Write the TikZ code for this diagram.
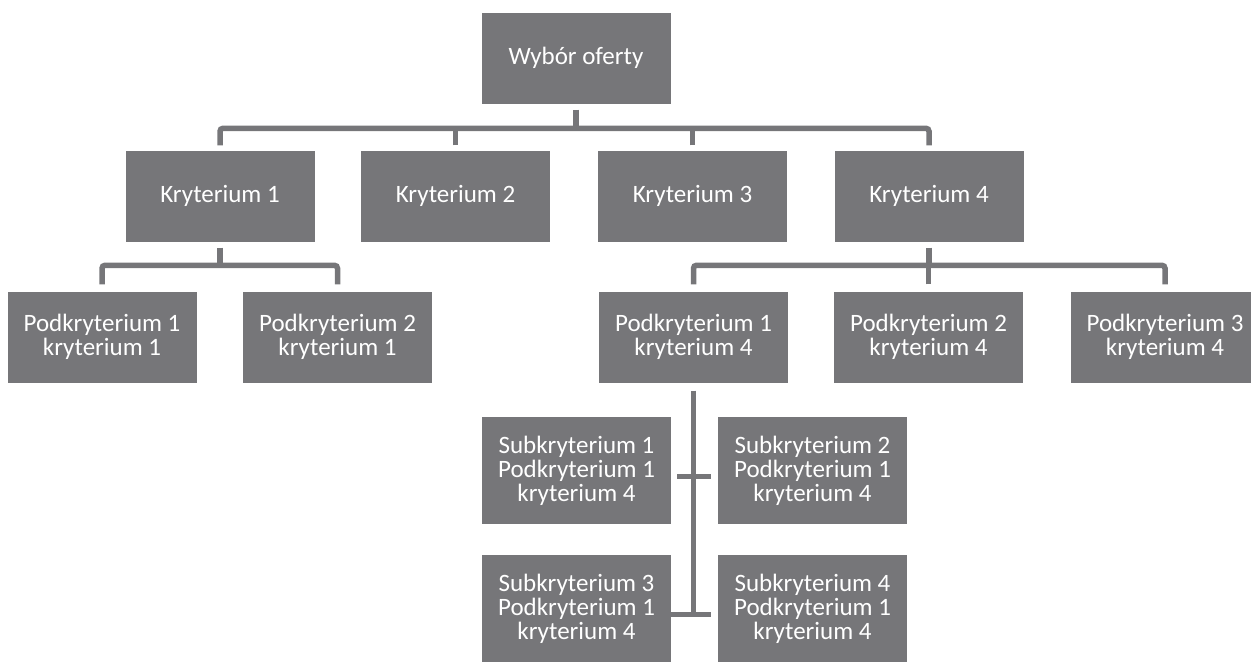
\documentclass[tikz,border=0pt]{standalone}
\usepackage{fontspec}
\setmainfont{Carlito}
\usepackage{tikz}
\usetikzlibrary{calc}
\definecolor{boxgray}{RGB}{118,118,121}
\tikzset{
	boxstyle/.style={rectangle,fill=boxgray,text=white,align=center,inner sep=0pt,minimum width=189pt,font=\fontsize{25}{24}\selectfont},
	highstyle/.style={boxstyle,minimum height=91pt},
	lowstyle/.style={boxstyle,minimum height=107pt},
	linkstyle/.style={draw=boxgray,line width=5.5pt,rounded corners=3pt}
}
\begin{document}
\begin{tikzpicture}[x=1pt,y=-1pt]
		\useasboundingbox (0,0) rectangle (1251,665);
		\node[highstyle] (top) at (576,58) {Wybór oferty};
		\node[highstyle] (k1) at (220,196) {Kryterium 1};
		\node[highstyle] (k2) at (455.5,196) {Kryterium 2};
		\node[highstyle] (k3) at (692.5,196) {Kryterium 3};
		\node[highstyle] (k4) at (929,196) {Kryterium 4};
		\node[highstyle] (p11) at (102,337) {Podkryterium 1\\kryterium 1};
		\node[highstyle] (p21) at (337.5,337) {Podkryterium 2\\kryterium 1};
		\node[highstyle] (p14) at (693.5,337) {Podkryterium 1\\kryterium 4};
		\node[highstyle] (p24) at (928.5,337) {Podkryterium 2\\kryterium 4};
		\node[highstyle] (p34) at (1165,337) {Podkryterium 3\\kryterium 4};
		\node[lowstyle] (s1) at (576.5,470.5) {Subkryterium 1\\Podkryterium 1\\kryterium 4};
		\node[lowstyle] (s2) at (812.5,470.5) {Subkryterium 2\\Podkryterium 1\\kryterium 4};
		\node[lowstyle] (s3) at (576.5,608.5) {Subkryterium 3\\Podkryterium 1\\kryterium 4};
		\node[lowstyle] (s4) at (812.5,608.5) {Subkryterium 4\\Podkryterium 1\\kryterium 4};
		% level 1
		\draw[linkstyle] ([yshift=-6pt]top.south) -- ++(0,18);
		\draw[linkstyle] ([yshift=5pt]k1.north) -- ++(0,-17) -| ([yshift=5pt]k4.north);
		\draw[linkstyle] ([yshift=5pt]k2.north) -- ++(0,-17);
		\draw[linkstyle] ([yshift=5pt]k3.north) -- ++(0,-17);
		% kryterium 1
		\draw[linkstyle] ([yshift=-6pt]k1.south) -- ++(0,18);
		\draw[linkstyle] ([yshift=7pt]p11.north) -- ++(0,-19) -| ([yshift=7pt]p21.north);
		% kryterium 4
		\draw[linkstyle] ([yshift=-6pt]k4.south) -- ++(0,18);
		\draw[linkstyle] ([yshift=7pt]p14.north) -- ++(0,-19) -| ([yshift=7pt]p34.north);
		\draw[linkstyle] ([yshift=7pt]p24.north) -- ++(0,-19);
		% podkryterium 1 kryterium 4
		\draw[linkstyle] ([yshift=-8pt]p14.south) -- ($(p14.south |- s3.east)+(0,6)$);
		\draw[linkstyle] ($(s1.east)+(6,6)$) -- ($(s2.west)+(-7,6)$);
		\draw[linkstyle] ($(s3.east)+(-3,6)$) -- ($(s4.west)+(-7,6)$);
\end{tikzpicture}
\end{document}
